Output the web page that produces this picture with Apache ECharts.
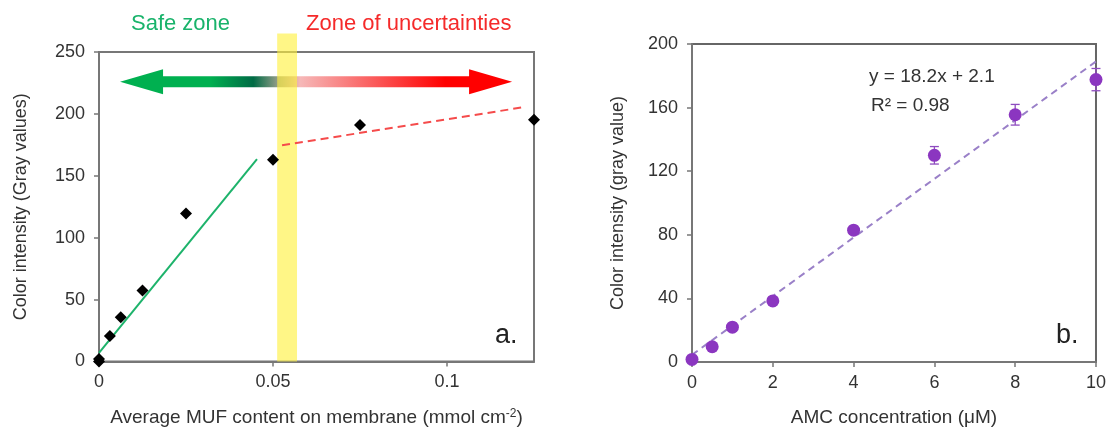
<!DOCTYPE html>
<html lang="en">
<head>
  <meta charset="UTF-8">
  <title>MUF / AMC color intensity</title>
  <style>
    html, body { margin: 0; padding: 0; background: #fff; }
    #main { width: 1109px; height: 432px; }
  </style>
</head>
<body>
<div id="main"></div>
<script src="https://cdn.jsdelivr.net/npm/echarts@6/dist/echarts.min.js"></script>
<script>
  // panel a. - MUF content vs colour intensity
  var mufX = [0, 0, 0.003125, 0.00625, 0.0125, 0.025, 0.05, 0.075, 0.125];
  var mufY = [0, 2, 20.6, 35.8, 57.4, 119.6, 162.9, 191, 195.3];
  var safeFit = [[0, 7], [0.0454, 163.5]];
  var uncertainFit = [[0.0526, 174.7], [0.1227, 205.7]];
  var band = [0.0512, 0.0569, 265];      // x from, x to, top value
  var arrow = [0.00605, 0.1187, 226];    // left tip, right tip, y
  var aTicks = { xMax: 0.125, xStep: 0.05, yMax: 250, yStep: 50 };

  // panel b. - AMC calibration
  var amcX = [0, 0.5, 1, 2, 4, 6, 8, 10];
  var amcY = [1.6, 9.6, 21.9, 38.4, 82.9, 130, 155.5, 177.6];
  var amcErr = [0.5, 1, 1.5, 1.5, 2, 5.5, 6.5, 7];
  var amcFit = [[0, 4.5], [10, 189]];
  var bTicks = { xMax: 10, xStep: 2, yMax: 200, yStep: 40 };

  var FONT = 'Liberation Sans, Arial, sans-serif';
  var txt = '#333';

  function pairs(xs, ys) {
    return xs.map(function (x, i) { return [x, ys[i]]; });
  }

  function axisBase() {
    return {
      type: 'value',
      axisLine: { show: true, lineStyle: { color: '#777', width: 2 } },
      axisTick: { show: true, inside: false, length: 5, lineStyle: { color: '#777', width: 1.5 } },
      splitLine: { show: false },
      axisLabel: { color: txt, fontSize: 18, fontFamily: FONT },
      nameLocation: 'middle',
      nameTextStyle: { color: txt, fontSize: 18, fontFamily: FONT }
    };
  }

  var xa = Object.assign(axisBase(), {
    gridIndex: 0, min: 0, max: aTicks.xMax, interval: aTicks.xStep,
    name: 'Average MUF content on membrane (mmol cm{sup|-2})', nameGap: 46
  });
  xa.axisLabel = Object.assign({}, xa.axisLabel, {
    margin: 12, showMaxLabel: false,
    formatter: function (v) { return String(+v.toFixed(3)); }
  });
  xa.nameTextStyle = Object.assign({}, xa.nameTextStyle, {
    fontSize: 19,
    rich: { sup: { fontSize: 12, verticalAlign: 'top', color: txt, fontFamily: FONT, padding: [0, 0, 8, 0] } }
  });
  var ya = Object.assign(axisBase(), {
    gridIndex: 0, min: 0, max: aTicks.yMax, interval: aTicks.yStep,
    name: 'Color intensity (Gray values)', nameGap: 69
  });
  ya.axisLabel = Object.assign({}, ya.axisLabel, { margin: 14 });

  var xb = Object.assign(axisBase(), {
    gridIndex: 1, min: 0, max: bTicks.xMax, interval: bTicks.xStep,
    name: 'AMC concentration (\u03bcM)', nameGap: 46
  });
  xb.axisLabel = Object.assign({}, xb.axisLabel, { margin: 12 });
  xb.nameTextStyle = Object.assign({}, xb.nameTextStyle, { fontSize: 19 });
  var yb = Object.assign(axisBase(), {
    gridIndex: 1, min: 0, max: bTicks.yMax, interval: bTicks.yStep,
    name: 'Color intensity (gray value)', nameGap: 65
  });
  yb.axisLabel = Object.assign({}, yb.axisLabel, { margin: 14 });

  var myChart = echarts.init(document.getElementById('main'));
  var option = {
    backgroundColor: '#fff',
    animation: false,
    grid: [
      { left: 99, top: 52, width: 435, height: 312, show: true, borderColor: '#777', borderWidth: 2 },
      { left: 692, top: 44, width: 404, height: 319, show: true, borderColor: '#666', borderWidth: 2 }
    ],
    xAxis: [xa, xb],
    yAxis: [ya, yb],
    graphic: [
      { type: 'text', left: 131, top: 13, style: { text: 'Safe zone', fill: '#19b36b', font: '22px ' + FONT } },
      { type: 'text', left: 306, top: 13, style: { text: 'Zone of uncertainties', fill: '#f52a2a', font: '22px ' + FONT } },
      { type: 'text', left: 495, top: 322, style: { text: 'a.', fill: '#222', font: '27px ' + FONT } },
      { type: 'text', left: 1056, top: 322, style: { text: 'b.', fill: '#222', font: '27px ' + FONT } },
      { type: 'text', left: 869, top: 67, style: { text: 'y = 18.2x + 2.1', fill: '#333', font: '19px ' + FONT } },
      { type: 'text', left: 871, top: 96, style: { text: 'R\u00b2 = 0.98', fill: '#333', font: '19px ' + FONT } }
    ],
    series: [
      {
        // double arrow safe -> uncertain
        type: 'custom', xAxisIndex: 0, yAxisIndex: 0, clip: false, z: 1,
        data: [arrow],
        renderItem: function (params, api) {
          var l = api.coord([api.value(0), api.value(2)]);
          var r = api.coord([api.value(1), api.value(2)]);
          var yc = l[1], h = 43, H = 12.5, s = 5.5;
          var pts = [
            [l[0], yc], [l[0] + h, yc - H], [l[0] + h, yc - s], [r[0] - h, yc - s],
            [r[0] - h, yc - H], [r[0], yc], [r[0] - h, yc + H], [r[0] - h, yc + s],
            [l[0] + h, yc + s], [l[0] + h, yc + H]
          ];
          return {
            type: 'polygon', shape: { points: pts },
            style: {
              fill: new echarts.graphic.LinearGradient(0, 0, 1, 0, [
                { offset: 0, color: '#00b050' },
                { offset: 0.23, color: '#00b050' },
                { offset: 0.34, color: '#006b45' },
                { offset: 0.40, color: '#8e9a86' },
                { offset: 0.46, color: '#f6b8b8' },
                { offset: 0.83, color: '#ff0000' },
                { offset: 1, color: '#ff0000' }
              ])
            }
          };
        }
      },
      {
        // yellow threshold band
        type: 'custom', xAxisIndex: 0, yAxisIndex: 0, clip: false, z: 2,
        data: [band],
        renderItem: function (params, api) {
          var a = api.coord([api.value(0), api.value(2)]);
          var b = api.coord([api.value(1), 0]);
          return {
            type: 'rect',
            shape: { x: a[0], y: a[1], width: b[0] - a[0], height: b[1] - a[1] },
            style: { fill: 'rgba(255, 240, 60, 0.62)' }
          };
        }
      },
      {
        type: 'line', xAxisIndex: 0, yAxisIndex: 0, z: 3,
        data: safeFit, symbol: 'none',
        lineStyle: { color: '#1db36b', width: 2 }
      },
      {
        type: 'line', xAxisIndex: 0, yAxisIndex: 0, z: 3,
        data: uncertainFit, symbol: 'none',
        lineStyle: { color: '#f54b4b', width: 2, type: [8, 5] }
      },
      {
        type: 'scatter', xAxisIndex: 0, yAxisIndex: 0, z: 4, clip: false,
        data: pairs(mufX, mufY), symbol: 'diamond', symbolSize: 12,
        itemStyle: { color: '#000', opacity: 1 }
      },
      {
        type: 'line', xAxisIndex: 1, yAxisIndex: 1, z: 3,
        data: amcFit, symbol: 'none',
        lineStyle: { color: '#9a80c8', width: 2, type: [7, 5] }
      },
      {
        // error bars
        type: 'custom', xAxisIndex: 1, yAxisIndex: 1, z: 4, clip: false,
        data: amcX.map(function (x, i) { return [x, amcY[i] - amcErr[i], amcY[i] + amcErr[i]]; }),
        renderItem: function (params, api) {
          var lo = api.coord([api.value(0), api.value(1)]);
          var hi = api.coord([api.value(0), api.value(2)]);
          var w = 4.5, st = { stroke: '#8e4cbf', lineWidth: 1.3 };
          return {
            type: 'group', children: [
              { type: 'line', shape: { x1: lo[0], y1: lo[1], x2: hi[0], y2: hi[1] }, style: st },
              { type: 'line', shape: { x1: lo[0] - w, y1: lo[1], x2: lo[0] + w, y2: lo[1] }, style: st },
              { type: 'line', shape: { x1: hi[0] - w, y1: hi[1], x2: hi[0] + w, y2: hi[1] }, style: st }
            ]
          };
        }
      },
      {
        type: 'scatter', xAxisIndex: 1, yAxisIndex: 1, z: 5, clip: false,
        data: pairs(amcX, amcY), symbol: 'circle', symbolSize: 13,
        itemStyle: { color: '#8b36c0', opacity: 1 }
      }
    ]
  };

  myChart.setOption(option);
  window.addEventListener('resize', function () {
    myChart.resize();
  });
</script>
</body>
</html>
